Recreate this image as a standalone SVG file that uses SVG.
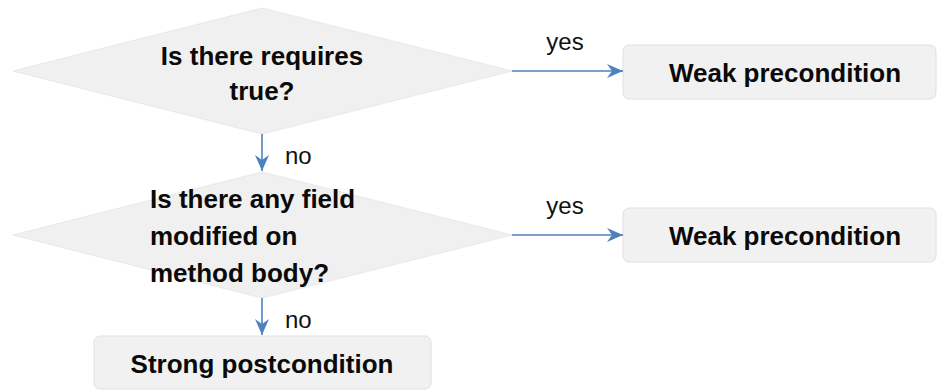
<svg xmlns="http://www.w3.org/2000/svg" width="937" height="390" viewBox="0 0 937 390">
<defs>
<marker id="ah" viewBox="0 0 16 14" refX="16" refY="7" markerWidth="16" markerHeight="14" markerUnits="userSpaceOnUse" orient="auto">
<path d="M0,0 L16,7 L0,14 L5,7 Z" fill="#4f81bd"/>
</marker>
</defs>
<style>
.dia{fill:#f0f0f0;stroke:#e8e8e8;stroke-width:1}
.box{fill:#f1f1f1;stroke:#e0e0e0;stroke-width:1}
.t{font-family:"Liberation Sans",Arial,sans-serif;font-weight:bold;font-size:26px;fill:#0a0a0a}
.l{font-family:"Liberation Sans",Arial,sans-serif;font-size:24px;fill:#111}
.c{stroke:#4f81bd;stroke-width:1.6;fill:none;marker-end:url(#ah)}
</style>
<g id="q1">
<polygon class="dia" points="262,8 512,71 262,134 13,71"/>
<text class="t" x="262" y="65" text-anchor="middle">Is there requires</text>
<text class="t" x="262" y="100" text-anchor="middle">true?</text>
</g>
<g id="w1">
<rect class="box" x="623" y="45" width="313" height="54" rx="6"/>
<text class="t" x="785" y="82" text-anchor="middle">Weak precondition</text>
</g>
<g id="q2">
<polygon class="dia" points="262,172 512,235 262,298 13,235"/>
<text class="t" x="150" y="208">Is there any field</text>
<text class="t" x="150" y="245">modified on</text>
<text class="t" x="150" y="282">method body?</text>
</g>
<g id="w2">
<rect class="box" x="623" y="208" width="313" height="54" rx="6"/>
<text class="t" x="785" y="245" text-anchor="middle">Weak precondition</text>
</g>
<g id="s1">
<rect class="box" x="94" y="336" width="337" height="53" rx="6"/>
<text class="t" x="262" y="373" text-anchor="middle">Strong postcondition</text>
</g>
<g id="connectors">
<line class="c" x1="512" y1="71" x2="623" y2="71"/>
<text class="l" x="565" y="50" text-anchor="middle">yes</text>
<line class="c" x1="262" y1="134" x2="262" y2="171"/>
<text class="l" x="285" y="164">no</text>
<line class="c" x1="512" y1="235" x2="623" y2="235"/>
<text class="l" x="565" y="214" text-anchor="middle">yes</text>
<line class="c" x1="262" y1="298" x2="262" y2="335"/>
<text class="l" x="285" y="328">no</text>
</g>
</svg>
